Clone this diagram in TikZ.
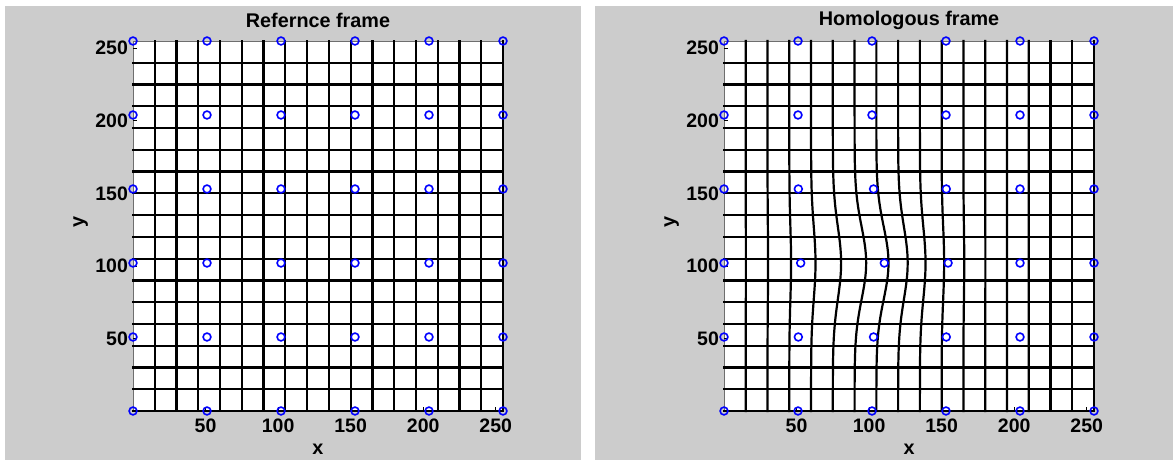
\documentclass[tikz,border=0pt]{standalone}
\usepackage{fontspec}
\setmainfont{Liberation Sans}
\definecolor{figgray}{RGB}{204,204,204}
\definecolor{mblue}{RGB}{0,0,255}
\definecolor{axgray}{RGB}{110,110,110}
\tikzset{
  gridline/.style={line width=2.2pt, draw=black, line cap=rect},
  axisline/.style={line width=0.9pt, draw=axgray},
  tickmark/.style={line width=0.7pt, draw=black},
  ctrl/.style={draw=mblue, line width=1.6pt},
  ticklab/.style={font=\fontsize{19.5}{21}\selectfont\bfseries, inner sep=0pt},
  titlelab/.style={font=\fontsize{19.8}{21}\selectfont\bfseries, inner sep=0pt},
  declare function={dsp(\a,\b)=8.5*exp(-min(0.5*((\a-100)/28)*((\a-100)/28)+0.5*((\b-102)/25)*((\b-102)/25),9));}
}
\begin{document}
\begin{tikzpicture}[x=1pt,y=1pt]
\useasboundingbox (0,0) rectangle (1173,460);
\fill[white] (0,0) rectangle (1173,460);
\fill[figgray] (5,0) rectangle (581,454);
\fill[figgray] (595,0) rectangle (1173,454);
% ---------- left panel ----------
\begin{scope}[shift={(133,49)}, x=1.45098pt, y=1.45098pt]
  \fill[white] (0,0) rectangle (255,255);
  \draw[axisline] (0,0) -- (0,255) -- (255,255);
  \foreach \k in {1,...,17} \draw[gridline] (15*\k,0) -- (15*\k,255);
  \foreach \k in {0,...,16} \draw[gridline] (0,15*\k) -- (255,15*\k);
  \foreach \v in {50,100,150,200,250} {
    \draw[tickmark] (\v,0) -- ++(0,2.8);
    \draw[tickmark] (0,\v) -- ++(2.8,0);
    \node[ticklab, anchor=east] (Lyl\v) at (-3.4,\v) {\v};
    \node[ticklab] (Lxl\v) at (\v,-10.5) {\v};
  }
  \foreach \i in {0,...,5} \foreach \j in {0,...,5}
    \draw[ctrl] (51*\i,51*\j) circle[radius=3.9pt];
  \node[titlelab] (Ltitle) at (127.5,269) {Refernce frame};
  \node[titlelab] (Lx) at (127.5,-26.5) {x};
  \node[titlelab, rotate=90] (Ly) at (-36,130) {y};
\end{scope}
% ---------- right panel ----------
\begin{scope}[shift={(724,49)}, x=1.45098pt, y=1.45098pt]
  \fill[white] (0,0) rectangle (255,255);
  \draw[axisline] (0,0) -- (0,255) -- (255,255);
  \foreach \k in {1,...,17}
    \draw[gridline] plot[domain=0:255, samples=86, variable=\t] ({15*\k+dsp(15*\k,\t)},\t);
  \foreach \k in {0,...,16} \draw[gridline] (0,15*\k) -- (255,15*\k);
  \foreach \v in {50,100,150,200,250} {
    \draw[tickmark] (\v,0) -- ++(0,2.8);
    \draw[tickmark] (0,\v) -- ++(2.8,0);
    \node[ticklab, anchor=east] (Ryl\v) at (-3.4,\v) {\v};
    \node[ticklab] (Rxl\v) at (\v,-10.5) {\v};
  }
  \foreach \i in {0,...,5} \foreach \j in {0,...,5}
    \draw[ctrl] ({51*\i+dsp(51*\i,51*\j)},51*\j) circle[radius=3.9pt];
  \node[titlelab] (Rtitle) at (127.5,269) {Homologous frame};
  \node[titlelab] (Rx) at (127.5,-26.5) {x};
  \node[titlelab, rotate=90] (Ry) at (-36,130) {y};
\end{scope}
\end{tikzpicture}
\end{document}
